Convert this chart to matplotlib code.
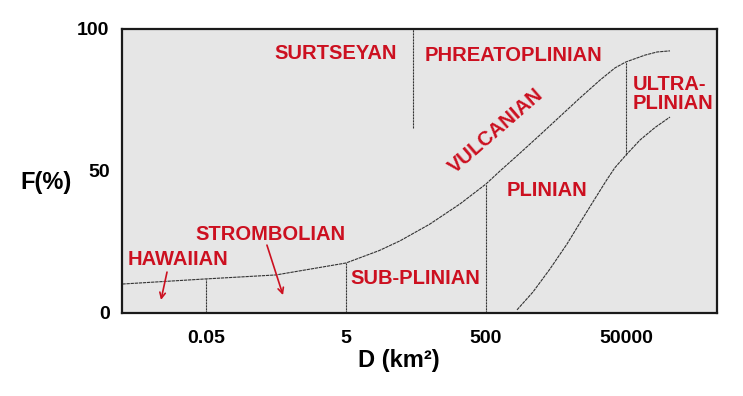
import matplotlib
matplotlib.use("Agg")
import matplotlib.pyplot as plt

plt.rcParams['font.family'] = ['Liberation Sans', 'DejaVu Sans']
plt.rcParams['font.weight'] = 'bold'

# boundary curves (D in km2, F in %)
upper_D = [0.0032, 0.05, 0.5, 5, 15, 29.6, 79, 213, 500, 794, 1535, 2960,
           7200, 11000, 21300, 34900, 50000, 93600, 139000, 213000]
upper_F = [10.2, 12.0, 13.4, 17.6, 22.0, 25.4, 31.3, 38.4, 45.4, 50.0, 56.3,
           62.7, 71.5, 75.7, 82.0, 86.3, 88.4, 90.8, 91.9, 92.3]
lower_D = [1390, 2350, 4110, 7200, 12200, 18100, 26800, 34900, 50000, 79400,
           130000, 213000]
lower_F = [1.1, 7.4, 15.5, 24.3, 33.5, 40.3, 47.0, 51.2, 55.6, 60.9, 65.3,
           69.0]

# vertical dividers: (D, F bottom, F top)
div_D = [0.05, 5, 500, 50000, 45]
div_F0 = [0, 0, 0, 55.6, 65]
div_F1 = [12.0, 17.6, 45.4, 88.4, 100]

x_ticks = [0.05, 5, 500, 50000]
x_ticklabels = ['0.05', '5', '500', '50000']
y_ticks = [0, 50, 100]

red = '#cc1020'
line_col = '#333333'

fig = plt.figure(figsize=(7.43, 3.96), dpi=100)
ax = fig.add_axes([0.1642, 0.2096, 0.8008, 0.7172])
ax.set_facecolor('#e6e6e6')
ax.set_xscale('log')
ax.set_xlim(10**-2.5, 1e6)
ax.set_ylim(0, 100)

ax.plot(upper_D, upper_F, color=line_col, lw=0.8, ls=(0, (3, 0.7)))
ax.plot(lower_D, lower_F, color=line_col, lw=0.8, ls=(0, (3, 0.7)))
for d, f0, f1 in zip(div_D, div_F0, div_F1):
    ax.plot([d, d], [f0, f1], color=line_col, lw=0.8, ls=(0, (2, 0.7)))

# regime names
fs = 14.5
ax.text(0.469, 91.2, 'SURTSEYAN', color=red, fontsize=fs, ha='left', va='center')
ax.text(67.5, 90.5, 'PHREATOPLINIAN', color=red, fontsize=fs, ha='left', va='center')
ax.text(63000, 77.1, 'ULTRA-\nPLINIAN', color=red, fontsize=fs, ha='left',
        va='center', linespacing=1.05)
ax.text(697, 64.1, 'VULCANIAN', color=red, fontsize=fs, ha='center',
        va='center', rotation=41, rotation_mode='anchor')
ax.text(1000, 43.3, 'PLINIAN', color=red, fontsize=fs, ha='left', va='center')
ax.text(5.7, 12.3, 'SUB-PLINIAN', color=red, fontsize=fs, ha='left', va='center')
ax.text(0.0349, 27.5, 'STROMBOLIAN', color=red, fontsize=fs, ha='left', va='center')
ax.text(0.00385, 19.0, 'HAWAIIAN', color=red, fontsize=fs, ha='left', va='center')

arrow = dict(arrowstyle='->', color=red, lw=1.2, shrinkA=0, shrinkB=0)
ax.annotate('', xy=(0.0114, 4.6), xytext=(0.0139, 14.4), arrowprops=arrow)
ax.annotate('', xy=(0.631, 6.3), xytext=(0.372, 23.9), arrowprops=arrow)

ax.set_xticks(x_ticks)
ax.set_xticklabels(x_ticklabels)
ax.minorticks_off()
ax.set_yticks(y_ticks)
ax.tick_params(axis='both', length=0, labelsize=14)
ax.tick_params(axis='x', pad=12)
ax.tick_params(axis='y', pad=9)
for s in ax.spines.values():
    s.set_linewidth(1.6)
    s.set_color('#1a1a1a')

fig.text(46/743, 1-183/396, 'F(%)', fontsize=17, ha='center', va='center')
fig.text(399/743, 1-360/396, 'D (km²)', fontsize=17, ha='center', va='center')

fig.savefig('out.png', dpi=100)
